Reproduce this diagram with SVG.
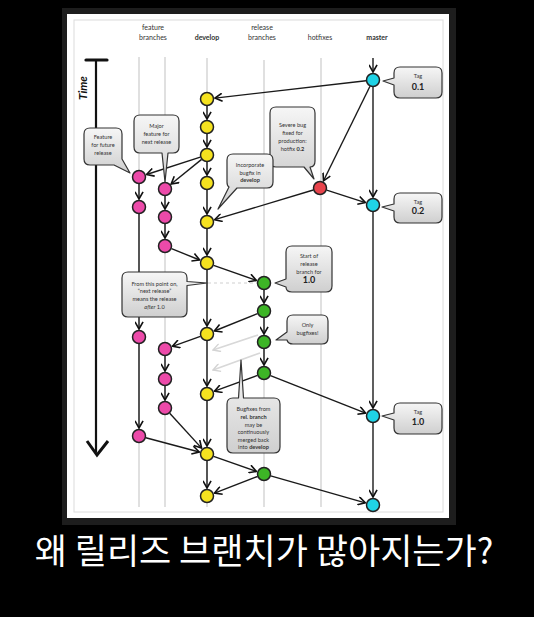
<svg xmlns="http://www.w3.org/2000/svg" width="534" height="617" viewBox="0 0 534 617">
<defs>
<linearGradient id="cg" x1="0" y1="0" x2="0" y2="1">
<stop offset="0" stop-color="#f6f6f6"/>
<stop offset="1" stop-color="#cfcfcf"/>
</linearGradient>
<marker id="ah" viewBox="0 0 10 10" refX="9" refY="5" markerWidth="9" markerHeight="9" markerUnits="userSpaceOnUse" orient="auto">
<path d="M1,0.5 L9,5 L1,9.5" fill="none" stroke="#111" stroke-width="1.8" stroke-linejoin="miter"/>
</marker>
<marker id="ahg" viewBox="0 0 10 10" refX="9" refY="5" markerWidth="9" markerHeight="9" markerUnits="userSpaceOnUse" orient="auto">
<path d="M1,0.5 L9,5 L1,9.5" fill="none" stroke="#d4d4d4" stroke-width="1.6"/>
</marker>
</defs>
<style>
.lane{stroke:#e0e0e0;stroke-width:2;fill:none}
.e{stroke:#1a1a1a;stroke-width:1.4;fill:none;marker-end:url(#ah)}
.eg{stroke:#d8d8d8;stroke-width:1.6;fill:none;marker-end:url(#ahg)}
.n{stroke:#222;stroke-width:1.5}
.dev{fill:#f5e21f}.fea{fill:#ec4aa9}.rel{fill:#3db526}.hot{fill:#e8444c}.mas{fill:#1fd3e6}
.co{fill:url(#cg);stroke:#333;stroke-width:1.2;stroke-linejoin:round}
.t{font-family:Lato,"Liberation Sans",sans-serif;font-size:5.6px;fill:#333;text-anchor:middle}
.b{font-weight:bold}
.h{font-family:Lato,"Liberation Sans",sans-serif;font-size:7px;fill:#333;text-anchor:middle}
.tag{font-family:Lato,"Liberation Sans",sans-serif;font-size:9px;font-weight:bold;fill:#222;text-anchor:middle}
</style>
<rect x="0" y="0" width="534" height="617" fill="#000"/>
<rect x="62" y="8" width="394" height="517" fill="#1d1d1d"/>
<rect x="67" y="14" width="382" height="504" fill="#fff"/>
<rect x="74" y="20" width="369" height="492" fill="none" stroke="#dcdcdc" stroke-width="1"/>

<g id="headers">
<text class="h" x="153" y="29.5">feature</text>
<text class="h" x="153" y="39.5">branches</text>
<text class="h b" x="207" y="39.5">develop</text>
<text class="h" x="262" y="29.5">release</text>
<text class="h" x="262" y="39.5">branches</text>
<text class="h" x="320" y="39.5">hotfixes</text>
<text class="h b" x="377" y="39.5">master</text>
</g>

<g id="lanes">
<line class="lane" x1="139" y1="57" x2="139" y2="507"/>
<line class="lane" x1="165" y1="57" x2="165" y2="507"/>
<line class="lane" x1="207" y1="58" x2="207" y2="507"/>
<line class="lane" x1="264" y1="60" x2="264" y2="507"/>
<line class="lane" x1="321" y1="58" x2="321" y2="507"/>
</g>

<g id="time">
<line x1="96" y1="60" x2="96" y2="452" stroke="#111" stroke-width="2.2"/>
<line x1="86" y1="60" x2="107" y2="60" stroke="#111" stroke-width="3.2" stroke-linecap="round"/>
<path d="M87,441 L97,455 L108,441" fill="none" stroke="#111" stroke-width="3"/>
<text x="0" y="0" transform="translate(87,88) rotate(-90)" font-family="Lato,'Liberation Sans',sans-serif" font-size="11.5" font-weight="bold" font-style="italic" fill="#111" text-anchor="middle">Time</text>
</g>

<g id="connectors">
<line class="e" x1="373" y1="58" x2="373" y2="72"/>
<line class="e" x1="366" y1="80.8" x2="215" y2="98.1"/>
<line class="e" x1="370" y1="86.3" x2="323.5" y2="180.8"/>
<line class="e" x1="373" y1="87" x2="373" y2="197"/>
<line class="e" x1="326.7" y1="190.1" x2="365.4" y2="202.6"/>
<line class="e" x1="313.3" y1="190" x2="214.7" y2="219.7"/>
<line class="e" x1="207" y1="106" x2="207" y2="119"/>
<line class="e" x1="207" y1="134" x2="207" y2="147"/>
<line class="e" x1="207" y1="162" x2="207" y2="175"/>
<line class="e" x1="207" y1="190" x2="207" y2="214"/>
<line class="e" x1="207" y1="229" x2="207" y2="255"/>
<line class="e" x1="207" y1="270" x2="207" y2="326"/>
<line class="e" x1="207" y1="341" x2="207" y2="386"/>
<line class="e" x1="207" y1="401" x2="207" y2="446"/>
<line class="e" x1="207" y1="461" x2="207" y2="488"/>
<line class="e" x1="200.3" y1="157.2" x2="146.6" y2="174.5"/>
<line class="e" x1="201.6" y1="159.4" x2="171.2" y2="184"/>
<line class="e" x1="139" y1="184" x2="139" y2="199"/>
<line class="e" x1="165" y1="196" x2="165" y2="209"/>
<line class="e" x1="165" y1="224" x2="165" y2="238"/>
<line class="e" x1="171.5" y1="248.6" x2="199.6" y2="260"/>
<line class="e" x1="213.6" y1="265.3" x2="256.4" y2="280.4"/>
<line x1="208" y1="283" x2="257" y2="283" stroke="#cfcfcf" stroke-width="1" stroke-dasharray="3,3"/>
<line class="e" x1="264" y1="290" x2="264" y2="303"/>
<line class="e" x1="264" y1="318" x2="264" y2="334"/>
<line class="e" x1="264" y1="349" x2="264" y2="365"/>
<line class="e" x1="257.5" y1="313.6" x2="214.4" y2="331"/>
<line class="e" x1="200.4" y1="336.4" x2="172.5" y2="346.3"/>
<line class="e" x1="139" y1="214" x2="139" y2="329"/>
<line class="e" x1="165" y1="356" x2="165" y2="371"/>
<line class="e" x1="165" y1="386" x2="165" y2="400"/>
<line class="e" x1="169.7" y1="413.2" x2="201.6" y2="448.1"/>
<line class="e" x1="139" y1="344" x2="139" y2="428"/>
<line class="e" x1="145.8" y1="437.8" x2="199.3" y2="452"/>
<line class="e" x1="257.4" y1="375.4" x2="214.5" y2="391.2"/>
<line class="e" x1="270.5" y1="375.6" x2="365.6" y2="413.1"/>
<line class="e" x1="213.6" y1="456.3" x2="256.4" y2="471.4"/>
<line class="e" x1="257.5" y1="476.5" x2="214.5" y2="493.1"/>
<line class="e" x1="270.7" y1="475.9" x2="365.3" y2="502.8"/>
<line class="e" x1="373" y1="212" x2="373" y2="408"/>
<line class="e" x1="373" y1="423" x2="373" y2="497"/>
<line class="eg" x1="258" y1="335" x2="213" y2="350"/>
<line class="eg" x1="260" y1="353" x2="213" y2="370"/>
</g>

<g id="master">
<circle class="n mas" cx="373" cy="80" r="6.5"/>
<circle class="n mas" cx="373" cy="205" r="6.5"/>
<circle class="n mas" cx="373" cy="416" r="6.5"/>
<circle class="n mas" cx="373" cy="505" r="6.5"/>
</g>
<g id="hotfix">
<circle class="n hot" cx="320" cy="188" r="6.5"/>
</g>
<g id="develop">
<circle class="n dev" cx="207" cy="99" r="6.5"/>
<circle class="n dev" cx="207" cy="127" r="6.5"/>
<circle class="n dev" cx="207" cy="155" r="6.5"/>
<circle class="n dev" cx="207" cy="183" r="6.5"/>
<circle class="n dev" cx="207" cy="222" r="6.5"/>
<circle class="n dev" cx="207" cy="263" r="6.5"/>
<circle class="n dev" cx="207" cy="334" r="6.5"/>
<circle class="n dev" cx="207" cy="394" r="6.5"/>
<circle class="n dev" cx="207" cy="454" r="6.5"/>
<circle class="n dev" cx="207" cy="496" r="6.5"/>
</g>
<g id="feature">
<circle class="n fea" cx="139" cy="177" r="6.5"/>
<circle class="n fea" cx="139" cy="207" r="6.5"/>
<circle class="n fea" cx="139" cy="337" r="6.5"/>
<circle class="n fea" cx="139" cy="436" r="6.5"/>
<circle class="n fea" cx="165" cy="189" r="6.5"/>
<circle class="n fea" cx="165" cy="217" r="6.5"/>
<circle class="n fea" cx="165" cy="246" r="6.5"/>
<circle class="n fea" cx="165" cy="349" r="6.5"/>
<circle class="n fea" cx="165" cy="379" r="6.5"/>
<circle class="n fea" cx="165" cy="408" r="6.5"/>
</g>
<g id="release">
<circle class="n rel" cx="264" cy="283" r="6.5"/>
<circle class="n rel" cx="264" cy="311" r="6.5"/>
<circle class="n rel" cx="264" cy="342" r="6.5"/>
<circle class="n rel" cx="264" cy="373" r="6.5"/>
<circle class="n rel" cx="264" cy="474" r="6.5"/>
</g>

<g id="callout-tag01">
<path class="co" d="M400,67 H436 Q442,67 442,73 V92 Q442,98 436,98 H400 Q394,98 394,92 V85 L383,81 L394,78 V73 Q394,67 400,67 Z"/>
<text class="t" x="418" y="78">Tag</text>
<text class="tag" x="418" y="89.5">0.1</text>
</g>
<g id="callout-future">
<path class="co" d="M90,128 H116 Q122,128 122,134 V159 L130,173 L114,165 H90 Q84,165 84,159 V134 Q84,128 90,128 Z"/>
<text class="t" x="103" y="139">Feature</text>
<text class="t" x="103" y="147">for future</text>
<text class="t" x="103" y="154.5">release</text>
</g>
<g id="callout-major">
<path class="co" d="M140,115 H173 Q179,115 179,121 V147 Q179,153 173,153 H168 L165,182 L162,153 H140 Q134,153 134,147 V121 Q134,115 140,115 Z"/>
<text class="t" x="156.5" y="128">Major</text>
<text class="t" x="156.5" y="136">feature for</text>
<text class="t" x="156.5" y="144">next release</text>
</g>
<g id="callout-severe">
<path class="co" d="M276,107 H309 Q315,107 315,113 V161 Q315,167 310,167 L314,179 L304,167 H276 Q270,167 270,161 V113 Q270,107 276,107 Z"/>
<text class="t" x="292.5" y="127">Severe bug</text>
<text class="t" x="292.5" y="135">fixed for</text>
<text class="t" x="292.5" y="142.5">production:</text>
<text class="t" x="292.5" y="150.5">hotfix <tspan class="b">0.2</tspan></text>
</g>
<g id="callout-incorporate">
<path class="co" d="M233,154 H267 Q273,154 273,160 V182 Q273,188 267,188 H237 L218,209 L229,187 Q227,186 227,182 V160 Q227,154 233,154 Z"/>
<text class="t" x="250" y="167">Incorporate</text>
<text class="t" x="250" y="174.5">bugfix in</text>
<text class="t b" x="250" y="182">develop</text>
</g>
<g id="callout-start">
<path class="co" d="M292,246 H326 Q332,246 332,252 V286 Q332,292 326,292 H292 Q286,292 286,287 L275,283 L286,279 V252 Q286,246 292,246 Z"/>
<text class="t" x="309" y="257.5">Start of</text>
<text class="t" x="309" y="265.5">release</text>
<text class="t" x="309" y="273.5">branch for</text>
<text class="tag" x="309" y="282.5" font-size="8">1.0</text>
</g>
<g id="callout-only">
<path class="co" d="M293,315 H322 Q328,315 328,321 V338 Q328,344 322,344 H293 Q288,344 287,340 L276,340 L287,332 V321 Q287,315 293,315 Z"/>
<text class="t" x="307.5" y="326.5">Only</text>
<text class="t" x="307.5" y="334.5">bugfixes!</text>
</g>
<g id="callout-nextrelease">
<path class="co" d="M128,272 H181 Q187,272 187,278 V281.5 L207,283 L187,285.5 V311 Q187,317 181,317 H128 Q122,317 122,311 V278 Q122,272 128,272 Z"/>
<text class="t" x="154.5" y="285.5">From this point on,</text>
<text class="t" x="154.5" y="293">“next release”</text>
<text class="t" x="154.5" y="300.5">means the release</text>
<text class="t" x="154.5" y="308.5"><tspan font-style="italic">after</tspan> 1.0</text>
</g>
<g id="callout-tag02">
<path class="co" d="M400,193 H436 Q442,193 442,199 V217 Q442,223 436,223 H400 Q394,223 394,217 V211 L382,207 L394,204 V199 Q394,193 400,193 Z"/>
<text class="t" x="418" y="204">Tag</text>
<text class="tag" x="418" y="214">0.2</text>
</g>
<g id="callout-tag10">
<path class="co" d="M400,403 H436 Q442,403 442,409 V428 Q442,434 436,434 H400 Q394,434 394,428 V420 L382,416 L394,413 V409 Q394,403 400,403 Z"/>
<text class="t" x="418" y="414">Tag</text>
<text class="tag" x="418" y="425">1.0</text>
</g>
<g id="callout-bugfixes">
<path class="co" d="M233,398 H238.5 L241,360 L243.5,398 H274 Q280,398 280,404 V447 Q280,453 274,453 H233 Q227,453 227,447 V404 Q227,398 233,398 Z"/>
<text class="t" x="253.5" y="411">Bugfixes from</text>
<text class="t b" x="253.5" y="419">rel. branch</text>
<text class="t" x="253.5" y="426.5">may be</text>
<text class="t" x="253.5" y="434">continuously</text>
<text class="t" x="253.5" y="441.5">merged back</text>
<text class="t" x="253.5" y="449">into <tspan class="b">develop</tspan></text>
</g>

<text x="264" y="564" font-family="'Noto Sans CJK KR','Noto Sans',sans-serif" font-size="35" fill="#fff" text-anchor="middle">왜 릴리즈 브랜치가 많아지는가?</text>
</svg>
